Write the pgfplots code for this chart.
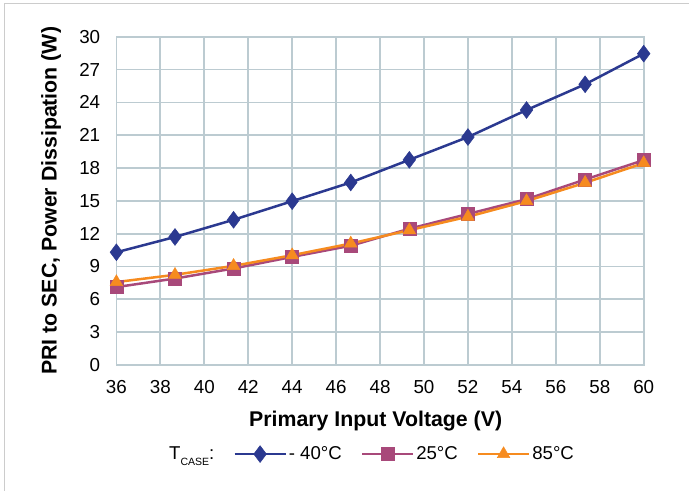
\documentclass[border=0pt]{standalone}
\usepackage{pgfplots}
\pgfplotsset{compat=1.18}
\usepackage{fontspec}
\setmainfont{Liberation Sans}
\definecolor{cblue}{HTML}{2B3990}
\definecolor{cpurple}{HTML}{A8497A}
\definecolor{corange}{HTML}{F68B1F}
\definecolor{cgrid}{HTML}{BCCBD1}
\begin{document}
\fontsize{18.6bp}{22bp}\selectfont
\begin{tikzpicture}
\useasboundingbox (0,0) rectangle (689bp,491bp);
\fill[white] (0,0) rectangle (689bp,491bp);
\draw[black!20, line width=1bp] (4.4bp,0) -- (4.4bp,487bp) -- (689bp,487bp);
\begin{axis}[
  at={(116.4bp,126bp)}, anchor=south west,
  scale only axis, width=527.3bp, height=328.3bp,
  xmin=36, xmax=60, ymin=0, ymax=30,
  xtick={36,38,...,60}, ytick={0,3,...,30},
  grid=major, grid style={cgrid, line width=1.7bp},
  axis line style={cgrid, line width=1.7bp},
  major tick length=0pt,
  tick label style={font=\fontsize{18.8bp}{22bp}\selectfont, inner sep=0pt},
  /pgf/number format/assume math mode=true,
  xticklabel shift=15bp, yticklabel shift=16bp,
  xlabel={\bfseries Primary Input Voltage (V)},
  xlabel style={at={(axis description cs:0.4917,-0.171)}, anchor=center, font=\fontsize{21.3bp}{24bp}\selectfont},
  ylabel={\bfseries PRI to SEC, Power Dissipation (W)},
  ylabel style={at={(axis description cs:-0.124,0.5)}, anchor=center, font=\fontsize{21.3bp}{24bp}\selectfont},
  clip=false,
  legend style={at={(axis description cs:0.096,-0.2713)}, anchor=west, draw=none, fill=none, inner sep=0pt,
    font=\fontsize{18.6bp}{22bp}\selectfont,
    /tikz/every even column/.append style={column sep=17bp},
    nodes={inner sep=2bp}},
  legend columns=-1,
  legend image code/.code={\draw[mark repeat=2,mark phase=2,#1] plot coordinates {(0bp,0bp) (25.5bp,0bp) (51bp,0bp)};},
]
\addlegendimage{empty legend}
\addlegendentry{T\raisebox{-0.35em}{\fontsize{10.5bp}{10bp}\selectfont CASE}:}
\addplot[cblue, line width=2.5bp, mark=diamond*, mark size=8.4bp, mark options={solid, fill=cblue, line width=0.5bp}]
coordinates {(36,10.3) (38.667,11.7) (41.333,13.27) (44,14.97) (46.667,16.68) (49.333,18.75) (52,20.83) (54.667,23.3) (57.333,25.65) (60,28.45)};
\addlegendentry{- 40°C}
\addplot[cpurple, line width=2.5bp, mark=square*, mark size=6.5bp, mark options={solid, fill=cpurple, line width=0.5bp}]
coordinates {(36,7.12) (38.667,7.9) (41.333,8.82) (44,9.88) (46.667,10.9) (49.333,12.45) (52,13.8) (54.667,15.15) (57.333,16.95) (60,18.72)};
\addlegendentry{25°C}
\addplot[corange, line width=2.5bp, mark=triangle*, mark size=7.3bp, mark options={solid, fill=corange, line width=0.5bp}]
coordinates {(36,7.58) (38.667,8.24) (41.333,9.06) (44,10.03) (46.667,11.1) (49.333,12.32) (52,13.55) (54.667,14.98) (57.333,16.65) (60,18.45)};
\addlegendentry{85°C}
\end{axis}
\end{tikzpicture}
\end{document}
